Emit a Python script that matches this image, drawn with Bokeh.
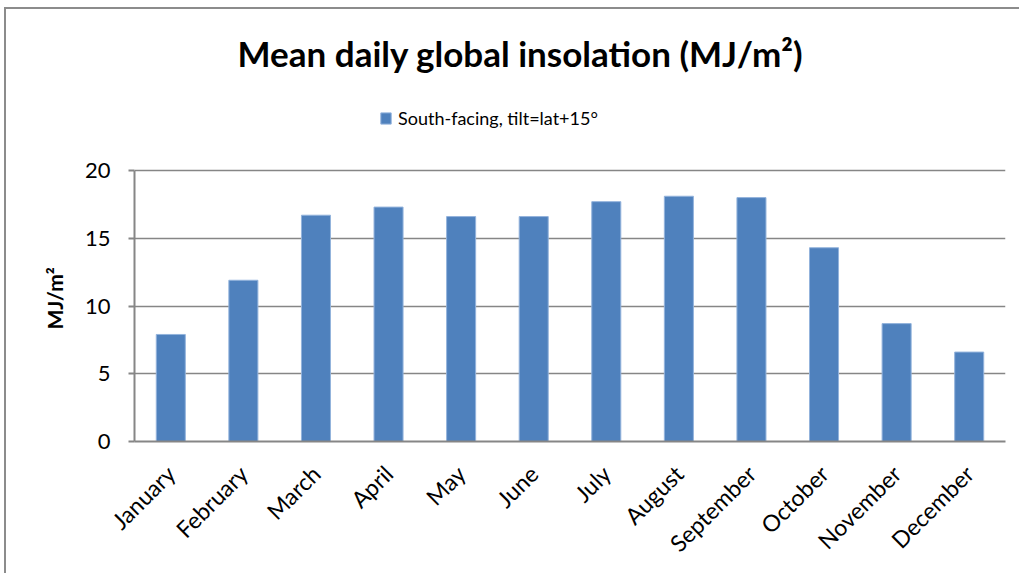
import math
from bokeh.plotting import figure
from bokeh.models import (Label, Legend, LegendItem, FactorRange, Range1d,
                          FixedTicker, ColumnDataSource, Title)
from bokeh.embed import file_html
from bokeh.resources import INLINE

months = ["January", "February", "March", "April", "May", "June", "July",
          "August", "September", "October", "November", "December"]
values = [7.9, 11.9, 16.7, 17.3, 16.6, 16.6, 17.7, 18.1, 18.0, 14.3, 8.7, 6.6]
y_ticks = [0, 5, 10, 15, 20]
chart_title = "Mean daily global insolation (MJ/m²)"
series_name = "South-facing, tilt=lat+15°"
y_label = "MJ/m²"

FONT = "Lato"
GRAY = "#868686"

# frame spans from the top of the chart box down to the 0 line (432 px);
# the value axis (0..20) occupies its lower 271 px
y_top = y_ticks[-1] * 432 / 271

src = ColumnDataSource(data=dict(month=months, value=values))

p = figure(width=1015, height=566,
           x_range=FactorRange(*months, range_padding=0),
           y_range=Range1d(0, y_top),
           output_backend="svg", toolbar_location=None,
           min_border_left=128, min_border_right=16,
           min_border_top=0, min_border_bottom=134,
           styles={"margin-left": "6px", "margin-top": "9px",
                   "box-shadow": "-2px -2px 0px 0px #8c8c8c"})
p.outline_line_color = None
p.background_fill_color = "white"
p.border_fill_color = "white"

r = p.vbar(x="month", top="value", width=0.4, source=src,
           fill_color="#4F81BD", line_color="#93b3dc", line_width=1)

# grid
p.xgrid.grid_line_color = None
p.ygrid.grid_line_color = GRAY
p.ygrid.grid_line_width = 1.6
p.yaxis.ticker = FixedTicker(ticks=y_ticks)

# y axis
p.yaxis.bounds = (y_ticks[0], y_ticks[-1])
p.yaxis.axis_line_color = GRAY
p.yaxis.axis_line_width = 2
p.yaxis.major_tick_line_color = GRAY
p.yaxis.major_tick_line_width = 2
p.yaxis.major_tick_out = 6
p.yaxis.major_tick_in = 0
p.yaxis.minor_tick_line_color = None
p.yaxis.major_label_text_font = FONT
p.yaxis.major_label_text_font_size = "22px"
p.yaxis.major_label_text_color = "black"
p.yaxis.major_label_standoff = 18

# y axis title, centred on the 0..20 span
p.add_layout(Title(text=y_label, align="left", offset=112,
                   text_font=FONT, text_font_size="21px",
                   text_font_style="bold", text_color="black",
                   standoff=30), "left")

# x axis
p.xaxis.axis_line_color = GRAY
p.xaxis.axis_line_width = 2
p.xaxis.major_tick_line_color = None
p.xaxis.minor_tick_line_color = None
p.xaxis.major_label_orientation = math.pi / 4
p.xaxis.major_label_text_font = FONT
p.xaxis.major_label_text_font_size = "23px"
p.xaxis.major_label_text_color = "black"
p.xaxis.major_label_standoff = 22

# title
p.add_layout(Label(x=386, y=389, x_units="screen", y_units="screen",
                   text=chart_title, text_align="center",
                   text_baseline="middle", text_font=FONT,
                   text_font_size="35px", text_font_style="bold",
                   text_color="black"))

# legend
legend = Legend(items=[LegendItem(label=series_name, renderers=[r])],
                location=(245, 312), padding=0, margin=0, spacing=0,
                glyph_width=13, glyph_height=14, label_standoff=6,
                label_text_font=FONT, label_text_font_size="18px",
                label_text_color="black",
                border_line_color=None, background_fill_alpha=0)
p.add_layout(legend, "center")

open("out.html", "w").write(file_html(p, INLINE))
